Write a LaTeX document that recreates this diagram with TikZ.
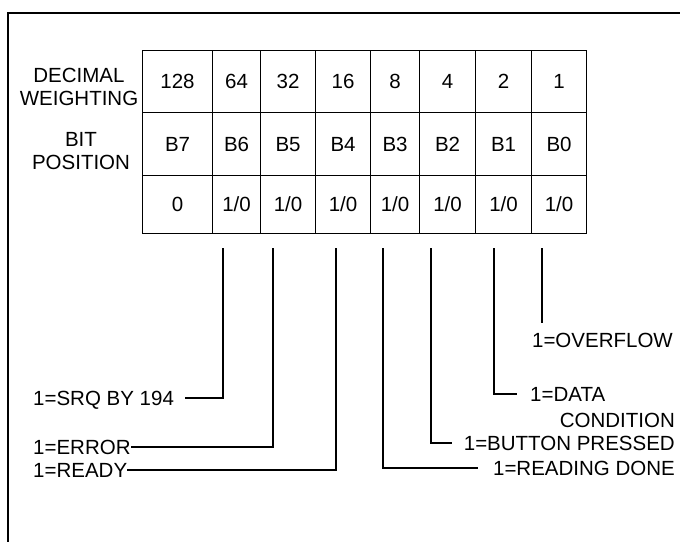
\documentclass[tikz,border=0pt]{standalone}
\usepackage{fontspec}
\setmainfont{Liberation Sans}
\begin{document}
\begin{tikzpicture}[x=1pt,y=-1pt,
  every node/.style={font=\fontsize{20.5}{23}\selectfont},
  cell/.style={draw, line width=1.1pt, inner sep=0pt, text height=14.5pt, text depth=0pt, anchor=north west},
  lab/.style={inner sep=0pt, text height=14.5pt, text depth=0pt},
  wire/.style={line width=1.1pt}]
\useasboundingbox (0,0) rectangle (680,542);
% frame
\draw[wire] (680,13) -- (8,13) -- (8,542);
% table
\foreach \n/\xl/\xr/\dw in {7/142/212/128, 6/212/260/64, 5/260/315/32, 4/315/370/16, 3/370/419/8, 2/419/475/4, 1/475/531/2, 0/531/586/1} {
  \node[cell, minimum width={\xr-\xl}, minimum height=62] (d\n) at (\xl,50) {\dw};
  \node[cell, minimum width={\xr-\xl}, minimum height=63] (p\n) at (\xl,112) {B\n};
}
\node[cell, minimum width=70, minimum height=58] (v7) at (142,175) {0};
\foreach \n/\xl/\xr in {6/212/260, 5/260/315, 4/315/370, 3/370/419, 2/419/475, 1/475/531, 0/531/586} {
  \node[cell, minimum width={\xr-\xl}, minimum height=58] (v\n) at (\xl,175) {1/0};
}
% row labels
\node[align=center, inner sep=0pt] (dwl) at (79,87) {DECIMAL\\WEIGHTING};
\node[align=center, inner sep=0pt] (bpl) at (81,151) {BIT\\POSITION};
% connector tops
\coordinate (t6) at (223,248);
\coordinate (t5) at (273,248);
\coordinate (t4) at (336,248);
\coordinate (t3) at (383,248);
\coordinate (t2) at (431,248);
\coordinate (t1) at (494,248);
\coordinate (t0) at (542,248);
\coordinate (e0) at (542,323);
% labels
\node[lab, anchor=west] (srq) at (33,398) {1=SRQ BY 194};
\node[lab, anchor=west] (err) at (33,447) {1=ERROR};
\node[lab, anchor=west] (rdy) at (33,470) {1=READY};
\node[lab, anchor=east] (ovf) at (673,340) {1=OVERFLOW};
\node[lab, anchor=west] (data) at (530,394) {1=DATA};
\node[lab, anchor=east] (cond) at (675,420) {CONDITION};
\node[lab, anchor=east] (btn) at (675,443) {1=BUTTON PRESSED};
\node[lab, anchor=east] (rdn) at (675,468) {1=READING DONE};
% connectors
\draw[wire] (t6) |- ([xshift=11pt]srq.east);
\draw[wire] (t5) |- (err.east);
\draw[wire] (t4) |- (rdy.east);
\draw[wire] (t3) |- ([xshift=-15pt]rdn.west);
\draw[wire] (t2) |- ([xshift=-12pt]btn.west);
\draw[wire] (t1) |- ([xshift=-13pt]data.west);
\draw[wire] (t0) -- (e0);
\end{tikzpicture}
\end{document}
